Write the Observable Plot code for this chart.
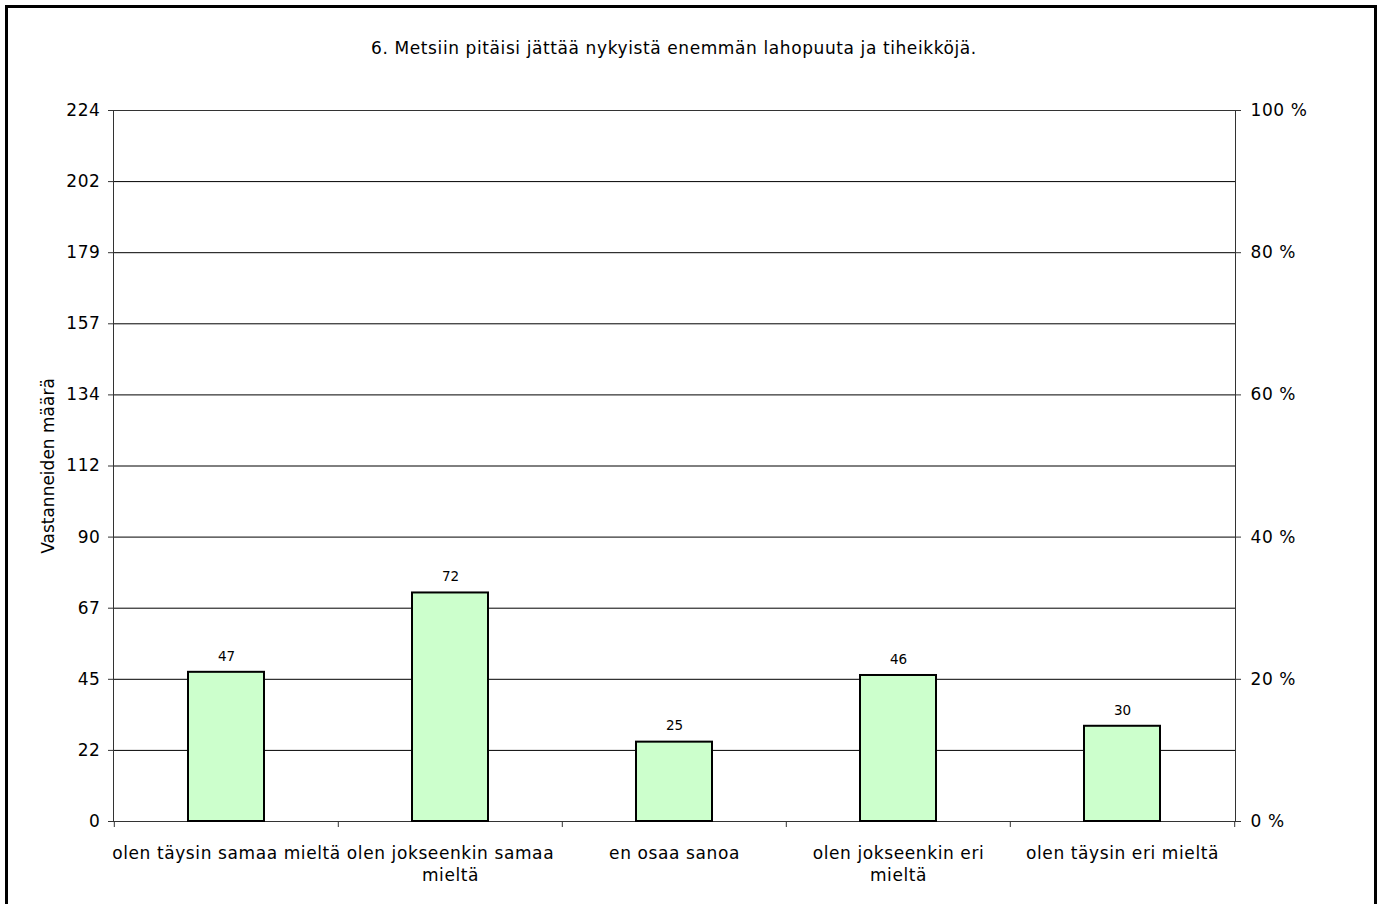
<!DOCTYPE html>
<html>
<head>
<meta charset="utf-8">
<script src="https://cdn.jsdelivr.net/npm/d3@7"></script>
<script src="https://cdn.jsdelivr.net/npm/@observablehq/plot@0.6"></script>
<style>
  body { margin: 0; background: #fff; }
  #wrap { position: relative; width: 1382px; height: 904px; overflow: hidden; font-family: "DejaVu Sans", Verdana, sans-serif; color: #000; }
  #frame { position: absolute; left: 5px; top: 5px; width: 1366px; height: 930px; border: 3px solid #000; }
  #title { position: absolute; top: 38px; left: 0; width: 1348px; text-align: center; font-size: 17px; letter-spacing: 0.6px; }
  #chart { position: absolute; left: 0; top: 0; }
  #chart svg [aria-label$="tick label"] text { letter-spacing: 0.6px; }
</style>
</head>
<body>
<div id="wrap">
  <div id="frame"></div>
  <div id="title">6. Metsiin pitäisi jättää nykyistä enemmän lahopuuta ja tiheikköjä.</div>
  <div id="chart"></div>
</div>
<script>
const categories = ["olen täysin samaa mieltä", "olen jokseenkin samaa mieltä", "en osaa sanoa", "olen jokseenkin eri mieltä", "olen täysin eri mieltä"];
const categoryLabels = ["olen täysin samaa mieltä", "olen jokseenkin samaa\nmieltä", "en osaa sanoa", "olen jokseenkin eri\nmieltä", "olen täysin eri mieltä"];
const counts = [47, 72, 25, 46, 30];
const yMax = 224;
const yTickLabels = ["0", "22", "45", "67", "90", "112", "134", "157", "179", "202", "224"];
const pctTicks = [0, 20, 40, 60, 80, 100];

const data = categories.map((c, i) => ({cat: c, count: counts[i]}));
const yTickVals = yTickLabels.map((_, i) => yMax * i / (yTickLabels.length - 1));

const W = 1382, H = 904, mL = 113, mR = 147, mT = 110, mB = 83;
const step = (W - mL - mR) / categories.length;
const font = "DejaVu Sans";

const chart = Plot.plot({
  width: W, height: H,
  marginLeft: mL, marginRight: mR, marginTop: mT, marginBottom: mB,
  style: {fontFamily: font, color: "#000", background: "transparent", overflow: "visible"},
  x: {type: "band", domain: categories, paddingInner: 0.66, paddingOuter: 0.33, axis: null},
  y: {domain: [0, yMax], axis: null},
  marks: [
    Plot.ruleY(yTickVals.slice(1), {stroke: "#000", strokeWidth: 1}),
    Plot.frame({stroke: "#333", strokeWidth: 1}),
    Plot.barY(data, {x: "cat", y: "count", fill: "#ccffcc", stroke: "#000", strokeWidth: 2}),
    Plot.text(data, {x: "cat", y: "count", text: d => String(d.count), dy: -16, fontSize: 13.5, fill: "#000", fontFamily: font}),
    Plot.axisY({
      anchor: "left", ticks: yTickVals,
      tickFormat: d => yTickLabels[yTickVals.indexOf(d)],
      tickSize: 5, tickPadding: 8, fontSize: 17, stroke: "#333",
      label: "Vastanneiden määrä", labelAnchor: "center", labelOffset: 72, labelArrow: false
    }),
    Plot.axisY({
      anchor: "right", ticks: pctTicks.map(p => p / 100 * yMax),
      tickFormat: d => Math.round(d / yMax * 100) + " %",
      tickSize: 5, tickPadding: 10, fontSize: 17, stroke: "#333", label: null
    }),
    Plot.axisX({
      ticks: categories, tickFormat: () => "", tickSize: 6, dx: -step / 2, stroke: "#333", label: null
    }),
    Plot.axisX({
      ticks: categories.slice(-1), tickFormat: () => "", tickSize: 6, dx: step / 2, stroke: "#333", label: null
    }),
    Plot.axisX({
      ticks: categories, tickFormat: d => categoryLabels[categories.indexOf(d)],
      tickSize: 0, tickPadding: 22, fontSize: 17, lineHeight: 1.3, label: null
    })
  ]
});
document.getElementById("chart").appendChild(chart);
</script>
</body>
</html>
